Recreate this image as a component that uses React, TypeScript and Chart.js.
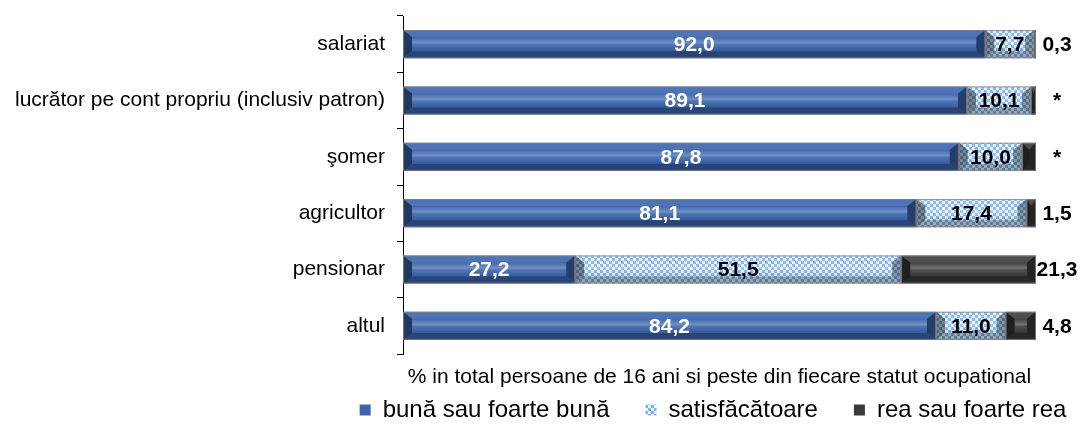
import { useEffect, useRef } from 'react';
import { Chart, registerables } from 'chart.js';

Chart.register(...registerables);

const categories = [
  'salariat',
  'lucrător pe cont propriu (inclusiv patron)',
  'şomer',
  'agricultor',
  'pensionar',
  'altul',
];
const seriesNames = ['bună sau foarte bună', 'satisfăcătoare', 'rea sau foarte rea'];
const buna = [92.0, 89.1, 87.8, 81.1, 27.2, 84.2];
const satisf = [7.7, 10.1, 10.0, 17.4, 51.5, 11.0];
const rea = [0.3, 0.8, 2.2, 1.5, 21.3, 4.8];
const reaUnreliable = [false, true, true, false, false, false];
const axisTitle = '% in total persoane de 16 ani si peste din fiecare statut ocupational';

const FONT = '"Liberation Sans", Arial, sans-serif';

function fmt(v: number) {
  return v.toFixed(1).replace('.', ',');
}

function makeChecker(): CanvasPattern {
  const c = document.createElement('canvas');
  c.width = 6;
  c.height = 6;
  const g = c.getContext('2d')!;
  g.fillStyle = '#e6f2fd';
  g.fillRect(0, 0, 6, 6);
  g.fillStyle = '#7db4ea';
  g.fillRect(0, 0, 3, 3);
  g.fillRect(3, 3, 3, 3);
  return g.createPattern(c, 'repeat')!;
}

function poly(ctx: CanvasRenderingContext2D, pts: number[][], fill: string) {
  ctx.beginPath();
  ctx.moveTo(pts[0][0], pts[0][1]);
  for (let i = 1; i < pts.length; i++) ctx.lineTo(pts[i][0], pts[i][1]);
  ctx.closePath();
  ctx.fillStyle = fill;
  ctx.fill();
}

const bevelAndLabels = {
  id: 'bevelAndLabels',
  afterDatasetsDraw(chart: any) {
    const ctx: CanvasRenderingContext2D = chart.ctx;
    chart.data.datasets.forEach((ds: any, di: number) => {
      const meta = chart.getDatasetMeta(di);
      meta.data.forEach((el: any) => {
        const { x, y, base, height } = el.getProps(['x', 'y', 'base', 'height'], true);
        const l = Math.min(x, base);
        const r = Math.max(x, base);
        const t = y - height / 2;
        const b = y + height / 2;
        const w = r - l;
        if (w <= 0) return;
        const dx = Math.min(9, w / 2);
        const dy = Math.min(7, height / 2);
        ctx.save();
        const g = ctx.createLinearGradient(0, t + dy, 0, b - dy);
        g.addColorStop(0, 'rgba(255,255,255,0.02)');
        g.addColorStop(0.4, 'rgba(255,255,255,0.28)');
        g.addColorStop(0.55, 'rgba(255,255,255,0.1)');
        g.addColorStop(1, 'rgba(0,0,0,0.1)');
        ctx.fillStyle = g;
        ctx.fillRect(l + dx, t + dy, Math.max(0, w - 2 * dx), height - 2 * dy);
        poly(ctx, [[l, t], [r, t], [r - dx, t + dy], [l + dx, t + dy]], 'rgba(255,255,255,0.1)');
        poly(ctx, [[l, b], [r, b], [r - dx, b - dy], [l + dx, b - dy]], 'rgba(0,0,0,0.3)');
        poly(ctx, [[l, t], [l + dx, t + dy], [l + dx, b - dy], [l, b]], 'rgba(0,0,0,0.45)');
        poly(ctx, [[r, t], [r - dx, t + dy], [r - dx, b - dy], [r, b]], 'rgba(0,0,0,0.38)');
        ctx.strokeStyle = 'rgba(130,130,130,0.8)';
        ctx.lineWidth = 1;
        ctx.strokeRect(l + 0.5, t + 0.5, Math.max(0, w - 1), height - 1);
        ctx.restore();
      });
    });
    ctx.save();
    ctx.font = `bold 21px ${FONT}`;
    ctx.textBaseline = 'middle';
    ctx.textAlign = 'center';
    const area = chart.chartArea;
    chart.data.datasets.forEach((ds: any, di: number) => {
      const meta = chart.getDatasetMeta(di);
      meta.data.forEach((el: any, i: number) => {
        const { x, y, base } = el.getProps(['x', 'y', 'base'], true);
        const v = ds.data[i];
        if (di === 0) {
          ctx.fillStyle = '#ffffff';
          ctx.fillText(fmt(v), (x + base) / 2, y + 1);
        } else if (di === 1) {
          ctx.fillStyle = '#000000';
          ctx.fillText(fmt(v), (x + base) / 2, y + 1);
        } else {
          ctx.fillStyle = '#000000';
          const txt = reaUnreliable[i] ? '*' : fmt(v);
          ctx.fillText(txt, area.right + 21, y + 1);
        }
      });
    });
    ctx.restore();
  },
};

const LEGEND_CENTER = 713;
const legendShift = {
  id: 'legendShift',
  afterLayout(chart: any) {
    const lg = chart.legend;
    if (!lg) return;
    const w = lg.right - lg.left;
    lg.left = LEGEND_CENTER - w / 2;
    lg.right = LEGEND_CENTER + w / 2;
  },
};

export default function App() {
  const ref = useRef<HTMLCanvasElement>(null);
  useEffect(() => {
    document.body.style.margin = '0';
    const checker = makeChecker();
    const chart = new Chart(ref.current!, {
      type: 'bar',
      data: {
        labels: categories,
        datasets: [
          { label: seriesNames[0], data: buna, backgroundColor: '#3b64ad', borderWidth: 0 },
          { label: seriesNames[1], data: satisf, backgroundColor: checker as any, borderWidth: 0 },
          { label: seriesNames[2], data: rea, backgroundColor: '#3a3a3a', borderWidth: 0 },
        ],
      },
      options: {
        indexAxis: 'y',
        responsive: false,
        animation: false,
        devicePixelRatio: 1,
        datasets: { bar: { categoryPercentage: 1, barPercentage: 0.5 } },
        layout: { padding: { left: 0, right: 50, top: 16, bottom: -7 } },
        scales: {
          x: {
            stacked: true,
            min: 0,
            max: 100,
            grid: { display: false, drawTicks: false },
            border: { display: false },
            ticks: { display: false },
            title: {
              display: true,
              text: axisTitle,
              color: '#000',
              font: { family: FONT, size: 21 },
              padding: { top: 10.4, bottom: -27.6 },
            },
          },
          y: {
            stacked: true,
            grid: { drawOnChartArea: false, tickLength: 6, color: '#000', offset: true },
            border: { display: true, color: '#000' },
            ticks: { padding: 12, color: '#000', font: { family: FONT, size: 21 } },
            afterFit: (s: any) => {
              s.width = 403;
              s.paddingTop = 0;
              s.paddingBottom = 0;
            },
          },
        },
        plugins: {
          legend: {
            position: 'bottom',
            labels: {
              boxWidth: 11,
              boxHeight: 11,
              padding: 36,
              color: '#000',
              font: { family: FONT, size: 24 },
            },
          },
          tooltip: { enabled: false },
        },
      },
      plugins: [bevelAndLabels, legendShift],
    });
    return () => chart.destroy();
  }, []);
  return (
    <div style={{ width: 1086, height: 425 }}>
      <canvas ref={ref} width={1086} height={425} />
    </div>
  );
}
